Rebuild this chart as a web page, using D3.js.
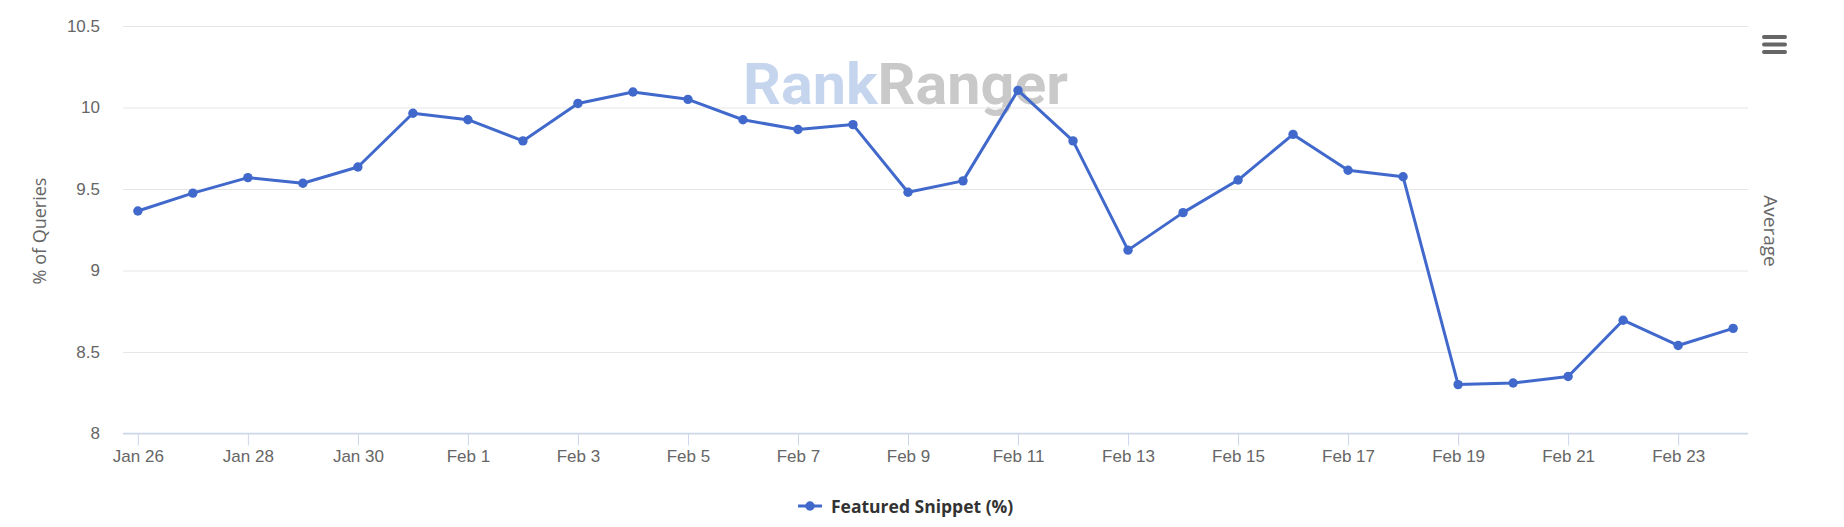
<!DOCTYPE html>
<html>
<head>
<meta charset="utf-8">
<script src="https://cdn.jsdelivr.net/npm/d3@7"></script>
<style>
  body { margin: 0; background: #fff; }
  svg { display: block; font-family: "Open Sans", "Noto Sans", sans-serif; }
  .y-axis text, .x-axis text { fill: #666; font-size: 17px; }
  .y-axis .domain { display: none; }
  .y-axis line { stroke: #e6e6e6; }
  .x-axis .domain, .x-axis line { stroke: #ccd6eb; }
</style>
</head>
<body>
<div id="chart"></div>
<script>
var width = 1844,
    height = 527;

// data
var days = ["Jan 26", "Jan 27", "Jan 28", "Jan 29", "Jan 30", "Jan 31", "Feb 1", "Feb 2",
  "Feb 3", "Feb 4", "Feb 5", "Feb 6", "Feb 7", "Feb 8", "Feb 9", "Feb 10", "Feb 11",
  "Feb 12", "Feb 13", "Feb 14", "Feb 15", "Feb 16", "Feb 17", "Feb 18", "Feb 19",
  "Feb 20", "Feb 21", "Feb 22", "Feb 23", "Feb 24"];
var snippetPct = [9.365, 9.475, 9.57, 9.535, 9.635, 9.965, 9.925, 9.795, 10.025, 10.095, 10.05,
  9.925, 9.865, 9.895, 9.48, 9.55, 10.105, 9.795, 9.125, 9.355, 9.555, 9.835, 9.615, 9.575,
  8.30, 8.31, 8.35, 8.695, 8.54, 8.645];
var yTicks = [8, 8.5, 9, 9.5, 10, 10.5];
var xTickLabels = ["Jan 26", "Jan 28", "Jan 30", "Feb 1", "Feb 3", "Feb 5", "Feb 7",
  "Feb 9", "Feb 11", "Feb 13", "Feb 15", "Feb 17", "Feb 19", "Feb 21", "Feb 23"];
var seriesName = "Featured Snippet (%)";

var plotLeft = 123, plotRight = 1748, plotTop = 26, plotBottom = 433.5;
var lineColor = "#4169cc";

var svg = d3.select("#chart").append("svg")
    .attr("width", width)
    .attr("height", height);

var x = d3.scalePoint().domain(days).range([plotLeft, plotRight]).padding(0.27);
var y = d3.scaleLinear().domain([8, 10.5]).range([plotBottom, plotTop]);

// watermark
var wm = svg.append("text")
    .attr("x", 743)
    .attr("y", 104)
    .attr("font-family", "Roboto, 'Open Sans', sans-serif")
    .attr("font-weight", "bold")
    .attr("font-size", 57)
    .attr("textLength", 325)
    .attr("lengthAdjust", "spacingAndGlyphs");
wm.append("tspan").attr("fill", "#c6d5ee").text("Rank");
wm.append("tspan").attr("fill", "#c9c9c9").text("Ranger");

// y axis with grid
svg.append("g")
    .attr("class", "y-axis")
    .attr("transform", "translate(" + plotLeft + ",0)")
    .call(d3.axisLeft(y).tickValues(yTicks).tickSize(-(plotRight - plotLeft)).tickPadding(23)
      .tickFormat(function(d) { return d; }));

// x axis
svg.append("g")
    .attr("class", "x-axis")
    .attr("transform", "translate(0," + plotBottom + ")")
    .call(d3.axisBottom(x).tickValues(xTickLabels).tickSizeOuter(0).tickSize(12).tickPadding(4))
    .call(function(g) {
      g.select(".domain").attr("d", "M" + plotLeft + ",0H" + plotRight).attr("stroke-width", 1.5);
    });

// axis titles
svg.append("text")
    .attr("transform", "translate(39,231) rotate(-90)")
    .attr("text-anchor", "middle")
    .attr("dominant-baseline", "central")
    .attr("fill", "#666")
    .attr("font-size", 18)
    .text("% of Queries");

svg.append("text")
    .attr("transform", "translate(1771,231) rotate(90)")
    .attr("text-anchor", "middle")
    .attr("dominant-baseline", "central")
    .attr("fill", "#666")
    .attr("font-size", 19)
    .text("Average");

// series
var line = d3.line()
    .x(function(d, i) { return x(days[i]); })
    .y(function(d) { return y(d); });

svg.append("path")
    .datum(snippetPct)
    .attr("fill", "none")
    .attr("stroke", lineColor)
    .attr("stroke-width", 3)
    .attr("stroke-linejoin", "round")
    .attr("d", line);

svg.append("g").selectAll("circle")
    .data(snippetPct)
    .enter().append("circle")
    .attr("cx", function(d, i) { return x(days[i]); })
    .attr("cy", function(d) { return y(d); })
    .attr("r", 4.7)
    .attr("fill", lineColor);

// menu icon
svg.append("g").selectAll("line")
    .data([37, 44.5, 52])
    .enter().append("line")
    .attr("x1", 1764).attr("x2", 1785)
    .attr("y1", function(d) { return d; }).attr("y2", function(d) { return d; })
    .attr("stroke", "#666")
    .attr("stroke-width", 4)
    .attr("stroke-linecap", "round");

// legend
var lg = svg.append("g").attr("transform", "translate(798,506)");
lg.append("line").attr("x1", 0).attr("x2", 24).attr("y1", 0).attr("y2", 0)
    .attr("stroke", lineColor).attr("stroke-width", 3);
lg.append("circle").attr("cx", 12).attr("cy", 0).attr("r", 4.7).attr("fill", lineColor);
lg.append("text")
    .attr("x", 33)
    .attr("y", 6.5)
    .attr("font-size", 17.5)
    .attr("font-weight", "bold")
    .attr("fill", "#333")
    .text(seriesName);
</script>
</body>
</html>
